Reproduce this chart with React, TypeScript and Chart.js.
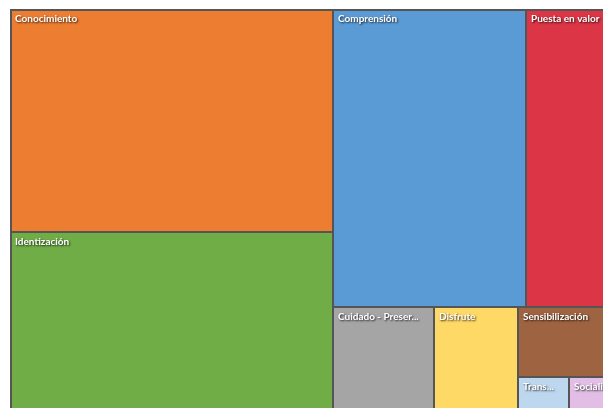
import React, { useEffect, useRef } from "react";
import { Chart, registerables } from "chart.js";

Chart.register(...registerables);

// ---- data ----
const categories = [
  "Conocimiento",
  "Identización",
  "Comprensión",
  "Puesta en valor",
  "Cuidado - Preservación",
  "Disfrute",
  "Sensibilización",
  "Transmisión",
  "Socialización",
];
const values = [29.2, 23.57, 23.32, 11.6, 4.27, 3.55, 2.95, 0.724, 0.752];
const colors = [
  "#ED7D31",
  "#70AD47",
  "#5B9BD5",
  "#DC3545",
  "#A5A5A5",
  "#FFD966",
  "#9E6340",
  "#BDD7EE",
  "#E2BEE6",
];
// slice-and-dice hierarchy (category indexes)
const groups: any = [[0, 1], [[2, 3], [4, 5, [6, [7, 8]]]]];
// visible window of the (cropped) treemap, in treemap units (0..100)
const viewX = 98.2;
const viewY = 99.0;

type Cell = { i: number; x0: number; y0: number; x1: number; y1: number };

function sumNode(n: any): number {
  return typeof n === "number" ? values[n] : n.reduce((s: number, c: any) => s + sumNode(c), 0);
}

function layout(n: any, x0: number, y0: number, x1: number, y1: number, depth: number, out: Cell[]) {
  if (typeof n === "number") {
    out.push({ i: n, x0, y0, x1, y1 });
    return;
  }
  const total = sumNode(n);
  let acc = 0;
  for (const c of n) {
    const s = sumNode(c);
    if (depth % 2 === 0) {
      const a = x0 + ((x1 - x0) * acc) / total;
      const b = x0 + ((x1 - x0) * (acc + s)) / total;
      layout(c, a, y0, b, y1, depth + 1, out);
    } else {
      const a = y0 + ((y1 - y0) * acc) / total;
      const b = y0 + ((y1 - y0) * (acc + s)) / total;
      layout(c, x0, a, x1, b, depth + 1, out);
    }
    acc += s;
  }
}

const treemapPlugin = {
  id: "treemapPlugin",
  afterDatasetsDraw(chart: any) {
    const { ctx, chartArea, scales } = chart;
    const xs = scales.x;
    const ys = scales.y;
    const cells: Cell[] = [];
    layout(groups, 0, 0, 100, 100, 0, cells);
    ctx.save();
    ctx.beginPath();
    ctx.rect(chartArea.left, chartArea.top, chartArea.right - chartArea.left, chartArea.bottom - chartArea.top);
    ctx.clip();
    const px = cells.map((c) => ({
      i: c.i,
      l: Math.round(xs.getPixelForValue(c.x0)),
      r: Math.round(xs.getPixelForValue(c.x1)),
      t: Math.round(ys.getPixelForValue(c.y0)),
      b: Math.round(ys.getPixelForValue(c.y1)),
    }));
    for (const p of px) {
      ctx.fillStyle = colors[p.i];
      ctx.fillRect(p.l, p.t, p.r - p.l, p.b - p.t);
    }
    ctx.strokeStyle = "#555555";
    ctx.lineWidth = 2;
    for (const p of px) {
      ctx.strokeRect(p.l, p.t, p.r - p.l, p.b - p.t);
    }
    // outer frame
    const x0 = Math.round(xs.getPixelForValue(0));
    const y0 = Math.round(ys.getPixelForValue(0));
    const x1 = Math.round(xs.getPixelForValue(100));
    const y1 = Math.round(ys.getPixelForValue(100));
    ctx.strokeRect(x0 + 1, y0 + 1, x1 - x0, y1 - y0);

    ctx.font = "bold 10px Lato, 'Open Sans', sans-serif";
    ctx.textBaseline = "top";
    ctx.fillStyle = "#ffffff";
    ctx.shadowColor = "rgba(0,0,0,0.8)";
    ctx.shadowOffsetX = 1;
    ctx.shadowOffsetY = 1;
    ctx.shadowBlur = 2;
    for (const p of px) {
      const maxW = Math.min(p.r - p.l - 15, Math.min(p.r, chartArea.right) - p.l - 6);
      let label = categories[p.i];
      if (ctx.measureText(label).width > maxW) {
        let k = label.length;
        while (k > 1 && ctx.measureText(label.slice(0, k).trimEnd() + "...").width > maxW) k--;
        label = label.slice(0, k).trimEnd() + "...";
      }
      ctx.fillText(label, p.l + 5, p.t + 5);
    }
    ctx.restore();
  },
};

export default function App() {
  const ref = useRef<HTMLCanvasElement | null>(null);
  useEffect(() => {
    if (!ref.current) return;
    const chart = new Chart(ref.current, {
      type: "scatter",
      data: { datasets: [{ data: [] }] },
      options: {
        animation: false,
        responsive: false,
        devicePixelRatio: 1,
        layout: { padding: { left: 2, top: 1, right: 0, bottom: 0 } },
        scales: {
          x: { type: "linear", min: 0, max: viewX, display: false },
          y: { type: "linear", min: 0, max: viewY, reverse: true, display: false },
        },
        plugins: { legend: { display: false }, tooltip: { enabled: false } },
      },
      plugins: [treemapPlugin],
    });
    return () => chart.destroy();
  }, []);
  return (
    <div style={{ width: 603, height: 400, overflow: "hidden" }}>
      <canvas ref={ref} width={603} height={400} style={{ display: "block" }} />
    </div>
  );
}
